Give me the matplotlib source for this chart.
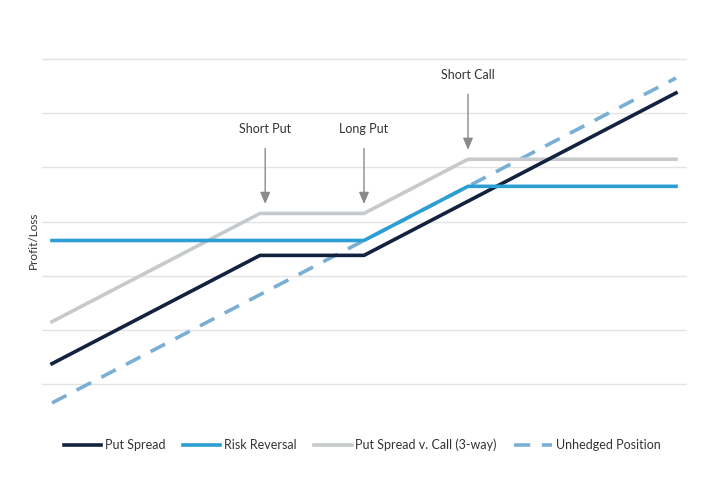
import matplotlib
matplotlib.use("Agg")
import matplotlib.pyplot as plt

# Data (underlying price on x, profit/loss on y; arbitrary units)
put_spread_x = [0, 4, 6, 12]
put_spread_y = [0.75, 4.75, 4.75, 10.75]

risk_rev_x = [0, 6, 8, 12]
risk_rev_y = [5.3, 5.3, 7.3, 7.3]

three_way_x = [0, 4, 6, 8, 12]
three_way_y = [2.3, 6.3, 6.3, 8.3, 8.3]

unhedged_x = [0, 12]
unhedged_y = [-0.7, 11.3]

annot_labels = ["Short Put", "Long Put", "Short Call"]
annot_x = [4.1, 6.0, 8.0]
annot_tip_y = [6.65, 6.65, 8.65]
annot_tail_y = [8.7, 8.7, 10.7]
annot_text_y = [9.2, 9.2, 11.2]

grid_levels = [0, 2, 4, 6, 8, 10, 12]

plt.rcParams['font.family'] = ['Lato', 'DejaVu Sans']

fig = plt.figure(figsize=(7.2, 5.0), dpi=100)
W, H = 720, 500
left_px, right_px = 42, 687
bottom_px, top_px = 424.6, 32.0
ax = fig.add_axes([left_px / W, 1 - bottom_px / H,
                   (right_px - left_px) / W, (bottom_px - top_px) / H])
ax.set_xlim(-10 / 52, 635 / 52)
ax.set_ylim(-1.5, 13)

for g in grid_levels:
    ax.axhline(g, color="#e3e3e3", lw=1.0, zorder=0)

navy = "#13223f"
blue = "#2b9fd5"
gray = "#c7cacc"
dash = "#7aafd5"

ax.plot(unhedged_x, unhedged_y, color=dash, lw=2.6, dashes=(4.5, 3.2),
        label="Unhedged Position", zorder=1, solid_capstyle="butt")
ax.plot(three_way_x, three_way_y, color=gray, lw=2.6,
        label="Put Spread v. Call (3-way)", zorder=2)
ax.plot(put_spread_x, put_spread_y, color=navy, lw=2.6,
        label="Put Spread", zorder=3)
ax.plot(risk_rev_x, risk_rev_y, color=blue, lw=2.6,
        label="Risk Reversal", zorder=4)

for lab, x, tip, tail, ty in zip(annot_labels, annot_x, annot_tip_y,
                                 annot_tail_y, annot_text_y):
    ax.annotate("", xy=(x, tip), xytext=(x, tail),
                arrowprops=dict(arrowstyle="-|>,head_length=0.7,head_width=0.3",
                                color="#8a8a8a", lw=1.0, shrinkA=0, shrinkB=0))
    ax.text(x, ty, lab, ha="center", va="bottom", fontsize=9,
            color="#333333")

for s in ax.spines.values():
    s.set_visible(False)
ax.set_xticks([])
ax.set_yticks([])

fig.text(33 / W, 1 - 240 / H, "Profit/Loss", rotation=90, ha="center",
         va="center", fontsize=8.5, color="#333333")

handles, labels = ax.get_legend_handles_labels()
order = [2, 3, 1, 0]
fig.legend([handles[i] for i in order], [labels[i] for i in order],
           loc="center", bbox_to_anchor=(362 / W, 1 - 445 / H), ncol=4,
           frameon=False, fontsize=9, handlelength=3.0, handletextpad=0.3,
           columnspacing=1.4, labelcolor="#333333")

fig.savefig("out.png", dpi=100)
